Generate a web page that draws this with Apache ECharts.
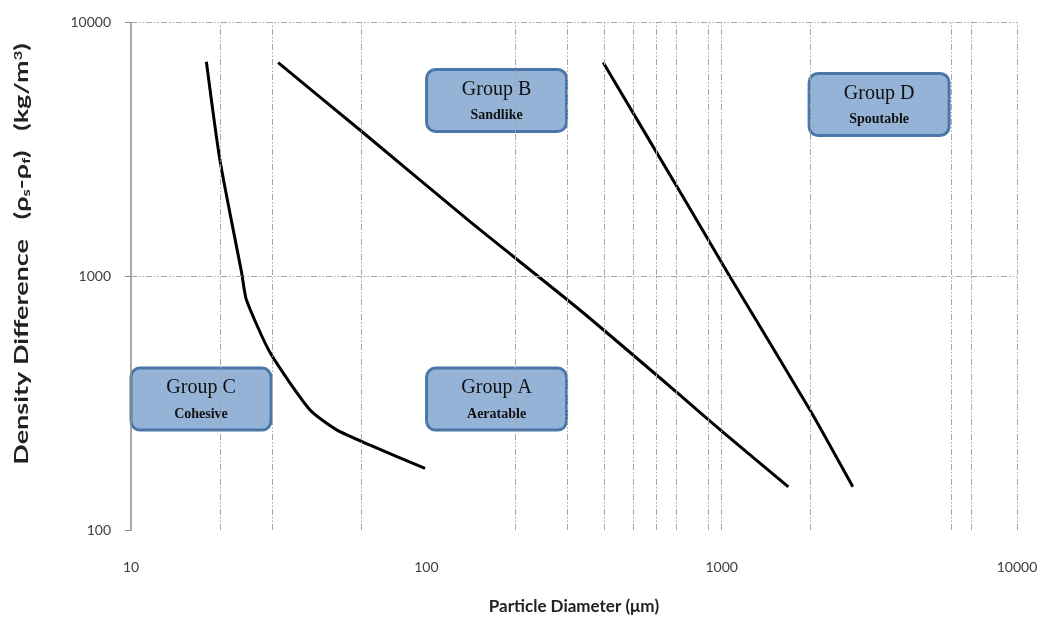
<!DOCTYPE html>
<html>
<head>
<meta charset="utf-8">
<script src="https://cdn.jsdelivr.net/npm/echarts@6/dist/echarts.min.js"></script>
<style>html,body{margin:0;padding:0;background:#fff}#c{width:1047px;height:628px}</style>
</head>
<body>
<div id="c"></div>
<script>
// Boundary curves (particle diameter µm, density difference kg/m3)
const cBoundaryX = [18, 20, 23.7, 24.6, 29.6, 40.4, 49.7, 64.5, 99];
const cBoundaryY = [7000, 2870, 1030, 806, 499, 297, 248, 216, 175];
const abBoundaryX = [31.5, 59.6, 140.6, 331, 723, 989, 1682];
const abBoundaryY = [6950, 3770, 1641, 736, 340, 248, 148];
const bdBoundaryX = [397, 762, 1067, 1991, 2780];
const bdBoundaryY = [6950, 1938, 996, 297, 148];
// Grid lines
const gridXValues = [20, 30, 60, 200, 300, 400, 500, 600, 700, 900, 1000, 2000, 6000, 7000, 10000];
const gridYValues = [1000, 10000];
// Group labels
const groupTitles = ['Group B', 'Group D', 'Group C', 'Group A'];
const groupSubtitles = ['Sandlike', 'Spoutable', 'Cohesive', 'Aeratable'];
const groupX = [172.9, 3413, 17.26, 172.9];
const groupY = [4930, 4750, 328, 328];

const zip = (xs, ys) => xs.map((x, i) => [x, ys[i]]);
const gridDash = [6, 2, 1.5, 2, 1.5, 2];
const gridColor = '#a6a6a6';

const chart = echarts.init(document.getElementById('c'));
const lineStyle = { color: '#000', width: 3 };
const titleFont = { fontFamily: 'Lato', fontWeight: 'bold', fontSize: 18, fill: '#222' };
chart.setOption({
  animation: false,
  grid: { left: 131, right: 30, top: 22.5, bottom: 98 },
  xAxis: {
    type: 'log', logBase: 10, min: 10, max: 10000,
    axisLine: { show: false },
    axisTick: { show: false },
    splitLine: { show: false },
    axisLabel: { margin: 30, fontFamily: 'Lato', fontSize: 14, color: '#404040', formatter: v => String(v) },
    name: 'Particle Diameter (μm)',
    nameLocation: 'middle', nameGap: 68,
    nameTextStyle: { fontFamily: 'Lato', fontWeight: 'bold', fontSize: 17, color: '#222' }
  },
  yAxis: {
    type: 'log', logBase: 10, min: 100, max: 10000,
    axisLine: { show: true, lineStyle: { color: '#8c8c8c', width: 1.5 } },
    axisTick: { show: true, length: 6, lineStyle: { color: '#8c8c8c' } },
    splitLine: { show: false },
    axisLabel: { margin: 20, fontFamily: 'Lato', fontSize: 14, color: '#404040', formatter: v => String(v) }
  },
  series: [
    {
      type: 'line', name: 'grid', data: [], silent: true,
      markLine: {
        silent: true, symbol: 'none', label: { show: false }, animation: false,
        lineStyle: { color: gridColor, width: 1, type: gridDash },
        data: gridXValues.map(v => ({ xAxis: v })).concat(gridYValues.map(v => ({ yAxis: v })))
      }
    },
    { type: 'line', name: 'C', data: zip(cBoundaryX, cBoundaryY), showSymbol: false, smooth: 0.2, lineStyle, z: 3 },
    { type: 'line', name: 'AB', data: zip(abBoundaryX, abBoundaryY), showSymbol: false, smooth: 0.2, lineStyle, z: 3 },
    { type: 'line', name: 'BD', data: zip(bdBoundaryX, bdBoundaryY), showSymbol: false, smooth: 0.2, lineStyle, z: 3 }
  ]
});

// Group boxes, positioned from data coordinates through the axes
const boxW = 140, boxH = 62;
const graphics = groupTitles.map((t, i) => {
  const p = chart.convertToPixel({ gridIndex: 0 }, [groupX[i], groupY[i]]);
  return {
    type: 'group', x: p[0], y: p[1], z: 100, silent: true,
    children: [
      { type: 'rect', shape: { x: -boxW / 2, y: -boxH / 2, width: boxW, height: boxH, r: 9 },
        style: { fill: '#95b3d7', stroke: '#4a76a8', lineWidth: 3 } },
      { type: 'text', x: 0, y: -11, style: { text: t, fontFamily: 'Liberation Serif', fontSize: 20, fill: '#111', align: 'center', verticalAlign: 'middle' } },
      { type: 'text', x: 0, y: 15, style: { text: groupSubtitles[i], fontFamily: 'Liberation Serif', fontWeight: 'bold', fontSize: 14, fill: '#111', align: 'center', verticalAlign: 'middle' } }
    ]
  };
});
// Y axis title (stretched along its length like the reference)
graphics.push({
  type: 'text', x: 22, y: 254, rotation: Math.PI / 2, scaleX: 1.5, scaleY: 1, silent: true,
  style: Object.assign({}, titleFont, {
    text: '{b|Density Difference}   {n|(ρ}{sub|s}{n|-ρ}{sub|f}{n|)}   {n|(kg/m}{sup|3}{n|)}',
    align: 'center', verticalAlign: 'middle',
    rich: {
      b: titleFont,
      n: titleFont,
      sub: Object.assign({}, titleFont, { fontSize: 11, verticalAlign: 'bottom', padding: [8, 0, 0, 0] }),
      sup: Object.assign({}, titleFont, { fontSize: 11, verticalAlign: 'top', padding: [0, 0, 8, 0] })
    }
  })
});
chart.setOption({ graphic: graphics });
</script>
</body>
</html>
